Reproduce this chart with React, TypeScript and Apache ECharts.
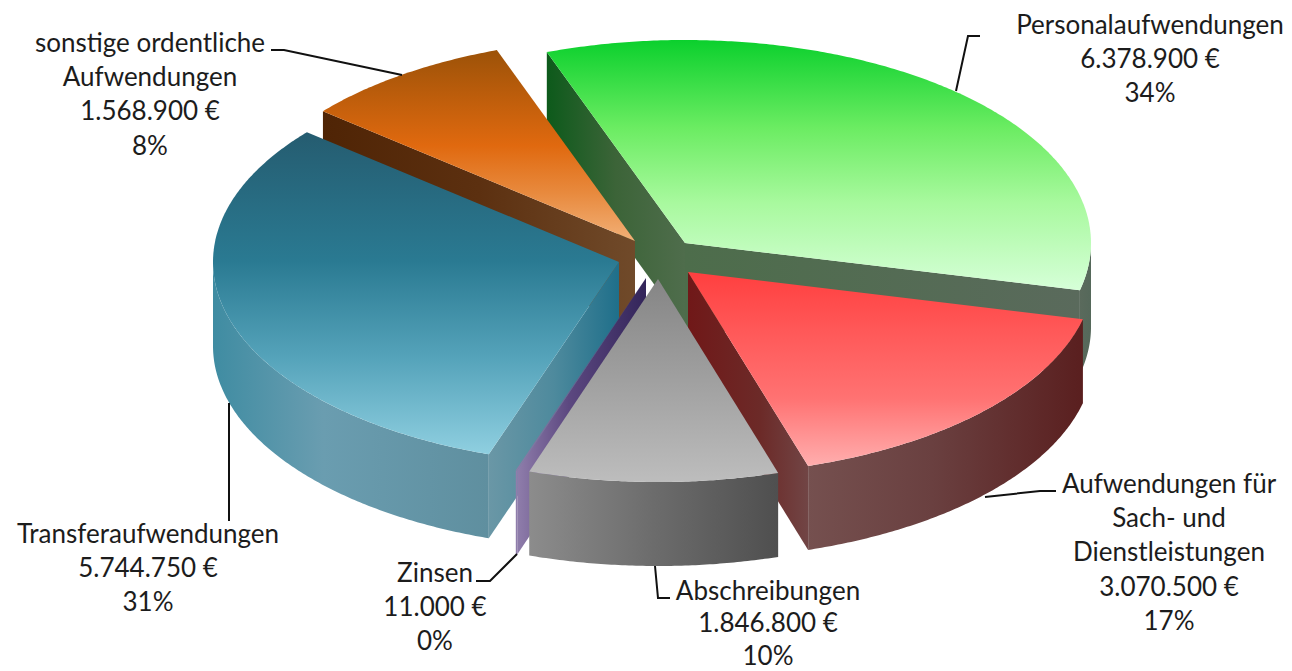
import React, { useEffect, useRef } from "react";
import * as echarts from "echarts";

// ---- data (pie order, clockwise from the top-left edge of the first slice)
const categories = [
  ["Personalaufwendungen"],
  ["Aufwendungen für", "Sach- und", "Dienstleistungen"],
  ["Abschreibungen"],
  ["Zinsen"],
  ["Transferaufwendungen"],
  ["sonstige ordentliche", "Aufwendungen"],
];
const values = [6378900, 3070500, 1846800, 11000, 5744750, 1568900];
const percents = ["34%", "17%", "10%", "0%", "31%", "8%"];

// ---- layout
const START_ANGLE = -19.9;
const CX = 650;
const CY = 260;
const RADIUS = 406;
const RATIO = 0.5;
const DEPTH = 84;
const explode = [[35, -17], [38, 12], [8, 19], [-4, 18], [-31, 2], [-15, -19]];
const paintOrder = [0, 5, 4, 1, 3, 2];

const labelPos = [
  { x: 1150, y: 24, lh: 34.2 },
  { x: 1169, y: 483, lh: 34.2 },
  { x: 768, y: 590, lh: 32.4 },
  { x: 435, y: 572, lh: 34.2 },
  { x: 148, y: 533, lh: 34.2 },
  { x: 150, y: 42, lh: 34.2 },
];
const leaders = [
  [[980, 36], [968, 36], [956, 91]],
  [[1056, 491], [1040, 491], [985, 497]],
  [[670, 598], [658, 598], [655, 566]],
  [[476, 581], [490, 581], [517, 554]],
  [[229, 403], [229, 521]],
  [[271, 50], [284, 50], [402, 75]],
];

// ---- colours
type Stops = [number, string][];
const topFill: Stops[] = [
  [[0, "#0bd02d"], [0.35, "#6bec62"], [0.65, "#a8f99e"], [1, "#d6ffd8"]],
  [[0, "#ff3f3f"], [0.3, "#ff5858"], [0.65, "#ff7272"], [1, "#ffaeae"]],
  [[0, "#858585"], [0.5, "#a0a0a0"], [1, "#bdbdbd"]],
  [[0, "#4a3a6e"], [1, "#8d7ba8"]],
  [[0, "#255c70"], [0.4, "#2a7a92"], [0.7, "#55a3ba"], [1, "#8fcfe0"]],
  [[0, "#9c5208"], [0.5, "#e0690f"], [0.75, "#e88a3e"], [1, "#f2b077"]],
];
const startWall: Stops[] = [
  [[0, "#0d5a1b"], [0.5, "#3c6438"], [1, "#4f6d4c"]],
  [[0, "#6a1a1a"], [1, "#6a1a1a"]],
  [[0, "#777777"], [1, "#777777"]],
  [[0, "#8f7dab"], [0.4, "#5c4880"], [1, "#33255a"]],
  [[0, "#6a97a6"], [0.5, "#4e8a9d"], [1, "#1f6f8a"]],
  [[0, "#4f2405"], [0.5, "#5c3010"], [1, "#704a2a"]],
];
const endWall: Stops[] = [
  [[0, "#4d6d4b"], [1, "#5a6a5c"]],
  [[0, "#701818"], [0.6, "#6c2a28"], [1, "#714545"]],
  [[0, "#777777"], [1, "#777777"]],
  [[0, "#5c4880"], [1, "#5c4880"]],
  [[0, "#6a97a6"], [1, "#6a97a6"]],
  [[0, "#704a2a"], [1, "#704a2a"]],
];
const outerWall: Stops[] = [
  [[0, "#5a6a5c"], [1, "#55685a"]],
  [[0, "#75504f"], [0.45, "#6a4040"], [1, "#5a1f1f"]],
  [[0, "#8c8c8c"], [0.5, "#6c6c6c"], [1, "#4f4f4f"]],
  [[0, "#8f7dab"], [1, "#8f7dab"]],
  [[0, "#3f8ca2"], [0.4, "#6a9db0"], [1, "#5f8f9f"]],
  [[0, "#5c3010"], [1, "#5c3010"]],
];

const TEXT_COLOR = "#1c1c1c";
const FONT = '26px Lato, "Open Sans", sans-serif';

const total = values.reduce((a, b) => a + b, 0);
const rad = (d: number) => (d * Math.PI) / 180;
const grad = (x2: number, y2: number, stops: Stops) =>
  new echarts.graphic.LinearGradient(
    0,
    0,
    x2,
    y2,
    stops.map(([offset, color]) => ({ offset, color }))
  );
const euro = (v: number) =>
  String(v).replace(/\B(?=(\d{3})+(?!\d))/g, ".") + " €";

function renderSlice(_: unknown, api: any) {
  const i = api.value(0) as number;
  const before = values.slice(0, i).reduce((a, b) => a + b, 0);
  const a0 = START_ANGLE + (before / total) * 360;
  const a1 = a0 + (api.value(1) / total) * 360;
  const ax = CX + explode[i][0];
  const ay = CY + explode[i][1];
  const pt = (deg: number): number[] => [
    ax + RADIUS * Math.sin(rad(deg)),
    ay - RADIUS * RATIO * Math.cos(rad(deg)),
  ];
  const arc = (from: number, to: number) => {
    const n = Math.max(2, Math.ceil((to - from) * 2));
    const out: number[][] = [];
    for (let k = 0; k <= n; k++) out.push(pt(from + ((to - from) * k) / n));
    return out;
  };
  const down = (p: number[]) => [p[0], p[1] + DEPTH];
  const children: any[] = [];
  const poly = (points: number[][], fill: any) =>
    children.push({ type: "polygon", shape: { points }, style: { fill } });

  if (Math.sin(rad(a0)) < 0) {
    const r = pt(a0);
    poly([[ax, ay], r, down(r), [ax, ay + DEPTH]], grad(1, 0, startWall[i]));
  }
  if (Math.sin(rad(a1)) > 0) {
    const r = pt(a1);
    poly([[ax, ay], r, down(r), [ax, ay + DEPTH]], grad(1, 0, endWall[i]));
  }
  const from = Math.max(a0, 90);
  const to = Math.min(a1, 270);
  if (to > from) {
    const top = arc(from, to);
    poly([...top, ...top.slice().reverse().map(down)], grad(1, 0, outerWall[i]));
  }
  poly([[ax, ay], ...arc(a0, a1)], grad(0, 1, topFill[i]));
  return { type: "group", children };
}

export default function App() {
  const ref = useRef<HTMLDivElement>(null);
  useEffect(() => {
    document.body.style.margin = "0";
    const chart = echarts.init(ref.current!, undefined, { renderer: "svg" });
    const graphics: any[] = [];
    leaders.forEach((points) =>
      graphics.push({
        type: "polyline",
        shape: { points },
        style: { fill: "none", stroke: "#111111", lineWidth: 2 },
        z: 5,
      })
    );
    categories.forEach((names, i) => {
      const lines = [...names, euro(values[i]), percents[i]];
      lines.forEach((text, k) =>
        graphics.push({
          type: "text",
          z: 6,
          style: {
            text,
            x: labelPos[i].x,
            y: labelPos[i].y + k * labelPos[i].lh,
            textAlign: "center",
            textVerticalAlign: "middle",
            font: FONT,
            fill: TEXT_COLOR,
          },
        })
      );
    });
    chart.setOption({
      animation: false,
      backgroundColor: "#ffffff",
      series: [
        {
          type: "custom",
          coordinateSystem: "none",
          silent: true,
          renderItem: renderSlice,
          data: paintOrder.map((i) => [i, values[i]]),
        },
      ],
      graphic: graphics,
    });
    return () => chart.dispose();
  }, []);
  return <div ref={ref} style={{ width: 1292, height: 671 }} />;
}
